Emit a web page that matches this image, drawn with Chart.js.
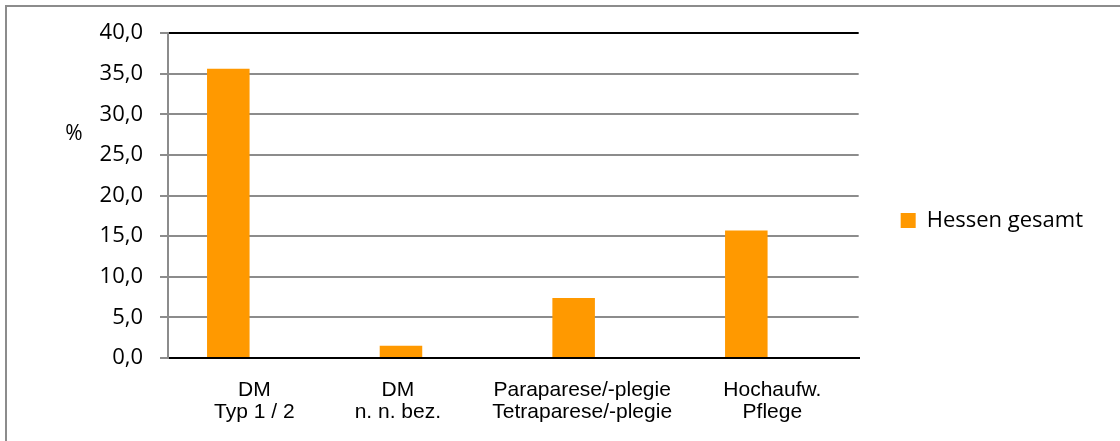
<!DOCTYPE html>
<html lang="de">
<head>
<meta charset="utf-8">
<script src="https://cdn.jsdelivr.net/npm/chart.js@4"></script>
<style>
    html, body { margin: 0; padding: 0; background: #fff; }
    #rahmen {
        position: absolute; left: 5px; top: 5px; width: 1200px; height: 500px;
        border-top: 2px solid #8c8c8c; border-left: 2px solid #8c8c8c;
    }
    #wrap { position: absolute; left: 0; top: 0; width: 1120px; height: 441px; }
</style>
</head>
<body>
<div id="rahmen"></div>
<div id="wrap"><canvas id="diagnosen"></canvas></div>
<script>
const kategorien = [['DM', 'Typ 1 / 2'], ['DM', 'n. n. bez.'], ['Paraparese/-plegie', 'Tetraparese/-plegie'], ['Hochaufw.', 'Pflege']];
const hessenGesamt = [35.6, 1.5, 7.4, 15.7];
// leere zweite Reihe, damit die Balken wie im Original links der Mitte sitzen
const platzhalter = [null, null, null, null];
const yTicks = [0, 5, 10, 15, 20, 25, 30, 35, 40];

// im Original stehen manche Beschriftungen etwas links der Mitte (Anzahl Leerzeichen rechts)
const labelEinzug = [0, 10, 6, 0];

const prozentLabel = {
    id: 'prozentLabel',
    afterDraw(chart) {
        const { ctx, chartArea } = chart;
        ctx.save();
        ctx.font = '21px "Open Sans"';
        ctx.fillStyle = '#000';
        ctx.textAlign = 'center';
        ctx.textBaseline = 'middle';
        ctx.fillText('%', chartArea.left - 94, chartArea.top + 101);
        ctx.restore();
    }
};

new Chart(document.getElementById('diagnosen'), {
    type: 'bar',
    data: {
        labels: kategorien,
        datasets: [{
            label: 'Hessen gesamt',
            data: hessenGesamt,
            backgroundColor: '#ff9900',
            barPercentage: 0.817,
            categoryPercentage: 0.603
        }, {
            label: '',
            data: platzhalter,
            backgroundColor: 'transparent',
            barPercentage: 0.817,
            categoryPercentage: 0.603
        }]
    },
    options: {
        responsive: true,
        maintainAspectRatio: false,
        animation: false,
        layout: { padding: { top: 0, bottom: 0, left: 0, right: 27 } },
        scales: {
            x: {
                grid: {
                    offset: true,
                    tickLength: 0,
                    lineWidth: 2,
                    color: (ctx) => ctx.index === kategorien.length ? '#000' : 'transparent'
                },
                border: { color: '#000', width: 2 },
                ticks: {
                    color: '#000',
                    padding: 21,
                    maxRotation: 0,
                    minRotation: 0,
                    autoSkip: false,
                    font: { family: '"Liberation Sans", Arial', size: 21, lineHeight: 1.05 },
                    callback: (v, i) => kategorien[i].map(z => z + ' '.repeat(labelEinzug[i]))
                },
                afterFit: (s) => { s.height = 83; }
            },
            y: {
                min: 0,
                max: 40,
                afterBuildTicks: (s) => { s.ticks = yTicks.map(v => ({ value: v })); },
                grid: {
                    tickLength: 8,
                    tickColor: '#8c8c8c',
                    lineWidth: 2,
                    color: (ctx) => ctx.tick && ctx.tick.value === 40 ? '#000' : '#8c8c8c'
                },
                border: { color: '#8c8c8c', width: 2 },
                ticks: {
                    color: '#000',
                    padding: 17,
                    font: { family: '"Open Sans"', size: 22 },
                    callback: (v) => v.toFixed(1).replace('.', ',')
                },
                afterFit: (s) => { s.width = 168; }
            }
        },
        plugins: {
            // leerer Titel als Abstand oben
            title: {
                display: true,
                text: '',
                padding: { top: 21, bottom: 0 },
                font: { size: 12, lineHeight: 1 }
            },
            legend: {
                position: 'right',
                labels: {
                    boxWidth: 15,
                    boxHeight: 15,
                    padding: 42,
                    color: '#000',
                    font: { family: '"Open Sans"', size: 22 },
                    filter: (item) => item.text !== ''
                }
            },
            tooltip: { enabled: false }
        }
    },
    plugins: [prozentLabel]
});
</script>
</body>
</html>
